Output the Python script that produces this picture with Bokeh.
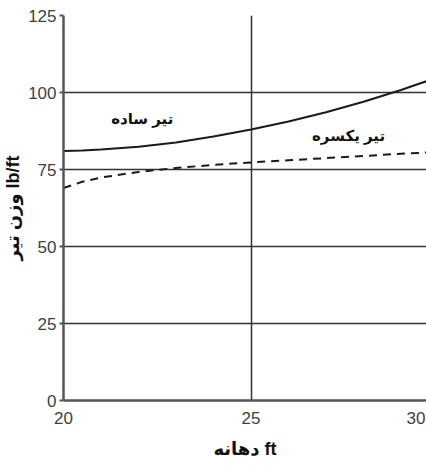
from bokeh.plotting import figure
from bokeh.models import FixedTicker, Label, Range1d
from bokeh.embed import file_html
from bokeh.resources import INLINE

# Data
span_ft = [20, 20.5, 21, 22, 23, 24, 25, 26, 27, 28, 29, 29.5, 30]
simple_beam = [81, 81.2, 81.5, 82.4, 83.8, 85.7, 88.0, 90.6, 93.6, 97.0, 100.8, 102.9, 105.0]
continuous_beam = [69, 71.0, 72.4, 74.2, 75.5, 76.5, 77.3, 78.0, 78.7, 79.4, 80.1, 80.4, 80.8]
x_ticks = [20, 25, 30]
y_ticks = [0, 25, 50, 75, 100, 125]
label_simple = "تیر ساده"
label_continuous = "تیر یکسره"
x_title = "دهانه ft"
y_title = "وزن تیر lb/ft"

FONT = "Liberation Sans, DejaVu Sans"
X_END = 29.68
# the reference crops its right edge: the last tick label ("30") is drawn just inside it
EDGE_TICK = 29.4

p = figure(width=426, height=465, output_backend="svg", toolbar_location=None,
           x_range=Range1d(20, X_END), y_range=Range1d(0, 125),
           min_border_left=62, min_border_right=0, min_border_top=15, min_border_bottom=65)
p.outline_line_color = None
p.background_fill_color = "white"

shown_x = [t if t <= X_END else EDGE_TICK for t in x_ticks]
p.xaxis.ticker = FixedTicker(ticks=shown_x)
p.xaxis.major_label_overrides = {s: str(t) for s, t in zip(shown_x, x_ticks)}
p.yaxis.ticker = FixedTicker(ticks=y_ticks)
p.xgrid.ticker = FixedTicker(ticks=[t for t in x_ticks if t <= X_END])
for g in (p.xgrid, p.ygrid):
    g.grid_line_color = "#333333"
    g.grid_line_width = 1.5
    g.grid_line_alpha = 1.0

for ax in (p.xaxis, p.yaxis):
    ax.axis_line_color = "#555555"
    ax.axis_line_width = 2.5
    ax.major_tick_line_color = "#555555"
    ax.major_tick_line_width = 2
    ax.major_tick_out = 4
    ax.major_tick_in = 0
    ax.minor_tick_line_color = None
    ax.major_label_text_font = "Liberation Sans"
    ax.major_label_text_font_size = "17px"
    ax.major_label_text_color = "#404040"
    ax.axis_label_text_font = FONT
    ax.axis_label_text_font_style = "bold"
    ax.axis_label_text_font_size = "18px"
    ax.axis_label_text_color = "#111111"

p.xaxis.major_tick_out = 0
p.xaxis.axis_label = x_title
p.yaxis.axis_label = y_title
p.xaxis.major_label_standoff = 11
p.yaxis.major_label_standoff = 3
p.xaxis.axis_label_standoff = 12
p.yaxis.axis_label_standoff = 2

p.line(span_ft, simple_beam, line_color="#1a1a1a", line_width=2)
p.line(span_ft, continuous_beam, line_color="#1a1a1a", line_width=2, line_dash="8 6")

p.add_layout(Label(x=22.1, y=91.5, text=label_simple, text_align="center", text_baseline="middle",
                   text_font=FONT, text_font_style="bold", text_font_size="15px", text_color="#111111"))
p.add_layout(Label(x=27.6, y=86, text=label_continuous, text_align="center", text_baseline="middle",
                   text_font=FONT, text_font_style="bold", text_font_size="15px", text_color="#111111"))

open("out.html", "w").write(file_html(p, INLINE))
